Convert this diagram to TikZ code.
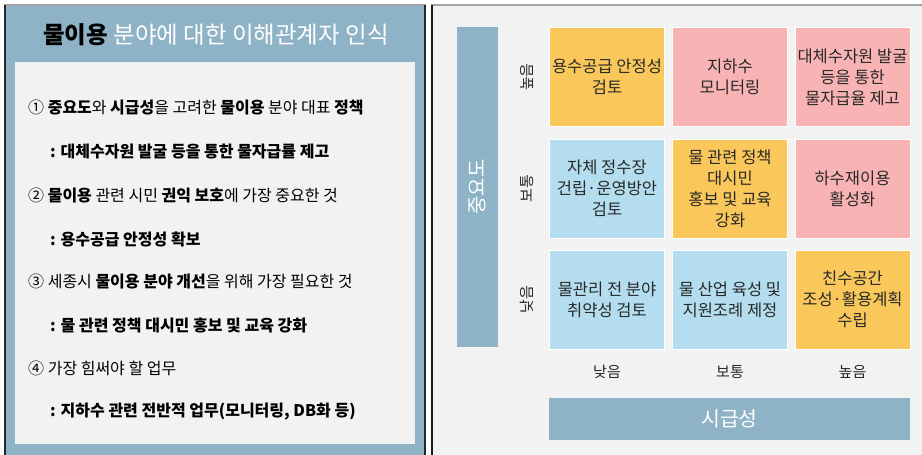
\documentclass[tikz,border=0pt]{standalone}
\usepackage{fontspec}
\setmainfont{Noto Sans CJK KR}
\definecolor{barblue}{RGB}{143,179,198}
\definecolor{panelbg}{RGB}{242,242,242}
\definecolor{orng}{RGB}{250,200,90}
\definecolor{pnk}{RGB}{248,180,180}
\definecolor{lblue}{RGB}{180,222,240}
\definecolor{topline}{RGB}{165,165,165}
\definecolor{txt}{RGB}{40,40,40}
\tikzset{
  cell/.style={minimum width=115pt, minimum height=99pt, inner sep=0pt, align=center,
    font=\fontsize{16.5}{21}\selectfont, text=txt, draw=white, line width=0.6pt},
  ocell/.style={cell, fill=orng},
  pcell/.style={cell, fill=pnk},
  bcell/.style={cell, fill=lblue},
  axislbl/.style={font=\fontsize{15}{16}\selectfont, text=txt, inner sep=0pt},
  listtxt/.style={anchor=west, font=\fontsize{16}{18}\selectfont, text=black, inner sep=0pt},
  axisbar/.style={fill=barblue, draw=none, inner sep=0pt},
}
\begin{document}
\begin{tikzpicture}[x=1pt,y=-1pt]
\useasboundingbox (0,0) rectangle (922,455);
\fill[white] (0,0) rectangle (922,455);
% ---- left panel ----
\fill[barblue] (5,5) rectangle (425,455);
\draw[topline, line width=2pt] (4,5) -- (426,5);
\draw[black!85, line width=1.4pt] (5,5) -- (5,455);
\draw[black!85, line width=1.4pt] (425,5) -- (425,455);
\fill[panelbg] (15,62) rectangle (415,444);
\node[font=\fontsize{23.5}{25}\selectfont, inner sep=0pt] (title) at (216,35)
  {\textbf{물이용}\ \textcolor{white}{분야에 대한 이해관계자 인식}};
\node[listtxt] (l1) at (28,108) {① \textbf{중요도}와 \textbf{시급성}을 고려한 \textbf{물이용} 분야 대표 \textbf{정책}};
\node[listtxt] (l2) at (50,152) {\textbf{: 대체수자원 발굴 등을 통한 물자급률 제고}};
\node[listtxt] (l3) at (28,196) {② \textbf{물이용} 관련 시민 \textbf{권익 보호}에 가장 중요한 것};
\node[listtxt] (l4) at (50,239) {\textbf{: 용수공급 안정성 확보}};
\node[listtxt] (l5) at (28,282) {③ 세종시 \textbf{물이용 분야 개선}을 위해 가장 필요한 것};
\node[listtxt] (l6) at (50,325) {\textbf{: 물 관련 정책 대시민 홍보 및 교육 강화}};
\node[listtxt] (l7) at (28,368) {④ 가장 힘써야 할 업무};
\node[listtxt] (l8) at (50,412) {\textbf{: 지하수 관련 전반적 업무(모니터링, DB화 등)}};
% ---- right panel ----
\fill[panelbg] (432,5) rectangle (922,455);
\draw[topline, line width=2pt] (431,5) -- (922,5);
\draw[black!90, line width=1.4pt] (432,5) -- (432,455);
\node[axisbar, minimum width=41pt, minimum height=320pt] (imp) at (477.5,187) {};
\node[rotate=90, text=white, font=\fontsize{20}{22}\selectfont, inner sep=0pt] (implbl) at (imp.center) {중요도};
\node[axisbar, minimum width=361pt, minimum height=42pt] (urg) at (729.5,419) {};
\node[text=white, font=\fontsize{20.5}{22}\selectfont, inner sep=0pt] (urglbl) at (urg.center) {시급성};
% cells
\node[ocell] (c11) at (607,77) {용수공급 안정성\\검토};
\node[pcell] (c12) at (730,77) {지하수\\모니터링};
\node[pcell] (c13) at (852.5,77) {대체수자원 발굴\\등을 통한\\물자급율 제고};
\node[bcell] (c21) at (607,188.5) {자체 정수장\\건립·운영방안\\검토};
\node[ocell] (c22) at (730,188.5) {물 관련 정책\\대시민\\홍보 및 교육\\강화};
\node[pcell] (c23) at (852.5,188.5) {하수재이용\\활성화};
\node[bcell] (c31) at (607,299.5) {물관리 전 분야\\취약성 검토};
\node[bcell] (c32) at (730,299.5) {물 산업 육성 및\\지원조례 제정};
\node[ocell] (c33) at (852.5,299.5) {친수공간\\조성·활용계획\\수립};
% row labels
\node[axislbl, rotate=90] (r1) at (527,77) {높음};
\node[axislbl, rotate=90] (r2) at (527,188.5) {보통};
\node[axislbl, rotate=90] (r3) at (527,299.5) {낮음};
% column labels
\node[axislbl] (k1) at (607,372) {낮음};
\node[axislbl] (k2) at (730,372) {보통};
\node[axislbl] (k3) at (852.5,372) {높음};
\end{tikzpicture}
\end{document}
